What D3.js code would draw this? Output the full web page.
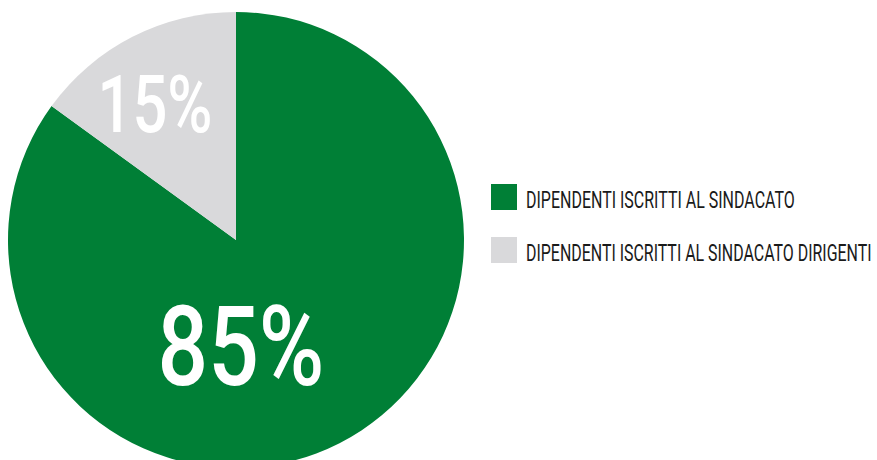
<!DOCTYPE html>
<html>
<head>
<meta charset="utf-8">
<script src="https://cdn.jsdelivr.net/npm/d3@7"></script>
<style>
  html, body { margin: 0; padding: 0; background: #fff; }
  svg { display: block; }
  text { font-family: Roboto, "Liberation Sans", sans-serif; }
</style>
</head>
<body>
<svg id="chart" width="877" height="460"></svg>
<script>
// Share of union members among employees
const categories = ["DIPENDENTI ISCRITTI AL SINDACATO", "DIPENDENTI ISCRITTI AL SINDACATO DIRIGENTI"];
const values = [85, 15];
const sliceLabels = ["85%", "15%"];
const colors = ["#007f36", "#d9d9db"];

const svg = d3.select("#chart");
const cx = 236, cy = 240, radius = 228;

const color = d3.scaleOrdinal().domain(categories).range(colors);
const pie = d3.pie().sort(null).value(d => d.value);
const arc = d3.arc().innerRadius(0).outerRadius(radius);

const data = categories.map((c, i) => ({ name: c, value: values[i], label: sliceLabels[i] }));
const arcs = pie(data);

const g = svg.append("g").attr("transform", `translate(${cx},${cy})`);
g.selectAll("path.slice")
  .data(arcs)
  .join("path")
  .attr("class", "slice")
  .attr("d", arc)
  .attr("fill", d => color(d.data.name));

// Squeeze a text horizontally so it spans the given width, anchored at (x, y)
function condense(sel, x, y, width, anchor) {
  sel.attr("x", 0).attr("y", 0);
  const w = sel.node().getComputedTextLength();
  const k = width / w;
  const dx = anchor === "middle" ? x - width / 2 : x;
  sel.attr("transform", `translate(${dx},${y}) scale(${k},1)`);
}

// Percentage labels inside the slices
const labelSpec = [
  { x: 5, y: 145, size: 112, width: 167 },
  { x: -81, y: -108, size: 80, width: 115 }
];
g.selectAll("text.pct")
  .data(arcs)
  .join("text")
  .attr("class", "pct")
  .attr("font-size", (d, i) => labelSpec[i].size)
  .attr("font-weight", 500)
  .attr("fill", "#fff")
  .text(d => d.data.label)
  .each(function (d, i) {
    const s = labelSpec[i];
    condense(d3.select(this), s.x, s.y, s.width, "middle");
  });

// Legend
const legendTextWidths = [269, 346];
const legend = svg.append("g").attr("transform", "translate(491,184)");
const rows = legend.selectAll("g.row")
  .data(data)
  .join("g")
  .attr("class", "row")
  .attr("transform", (d, i) => `translate(0,${i * 53})`);
rows.append("rect")
  .attr("width", 26).attr("height", 26)
  .attr("fill", d => color(d.name));
rows.append("text")
  .attr("font-size", 23)
  .attr("fill", "#1a1a1a")
  .text(d => d.name)
  .each(function (d, i) {
    condense(d3.select(this), 35, 24, legendTextWidths[i], "start");
  });
</script>
</body>
</html>
